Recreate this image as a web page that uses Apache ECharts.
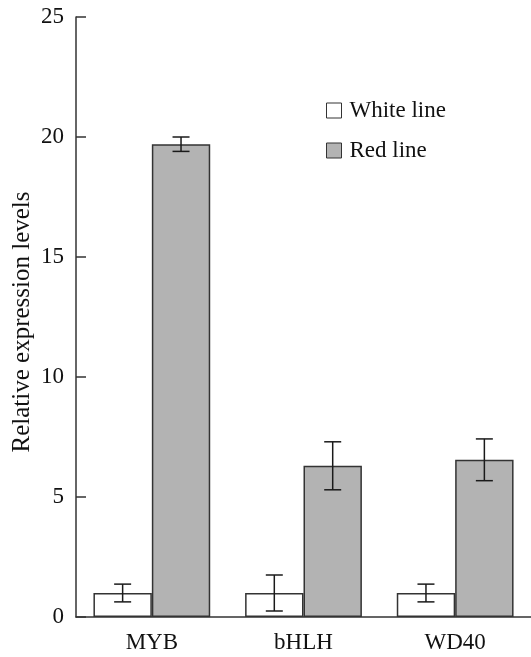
<!DOCTYPE html>
<html>
<head>
<meta charset="utf-8">
<script src="https://cdn.jsdelivr.net/npm/echarts@6/dist/echarts.min.js"></script>
<style>
html,body{margin:0;padding:0;background:#fff;}
#chart{width:531px;height:657px;}
</style>
</head>
<body>
<div id="chart"></div>
<script>
var categories = ['MYB', 'bHLH', 'WD40'];
var seriesNames = ['White line', 'Red line'];
var whiteValues = [1.0, 1.0, 1.0];
var whiteErrors = [0.37, 0.75, 0.37];
var redValues = [19.7, 6.3, 6.55];
var redErrors = [0.3, 1.0, 0.87];
var yTicks = [0, 5, 10, 15, 20, 25];

var FONT = '"Liberation Serif", "DejaVu Serif", serif';
var chart = echarts.init(document.getElementById('chart'));

var CAT_GAP = 0.23;
function errorData(values, errors) {
  return values.map(function (v, i) { return [i, v - errors[i], v + errors[i]]; });
}
function errorSeries(name, values, errors, side) {
  return {
    type: 'custom',
    name: name + ' error',
    silent: true,
    z: 5,
    data: errorData(values, errors),
    renderItem: function (params, api) {
      var catW = api.size([1, 0])[0];
      var barW = catW * (1 - CAT_GAP) / 2;
      var lo = api.coord([api.value(0), api.value(1)]);
      var hi = api.coord([api.value(0), api.value(2)]);
      var x = lo[0] + side * barW / 2;
      var cap = 8.5;
      var style = { stroke: '#1a1a1a', lineWidth: 1.5 };
      return {
        type: 'group',
        children: [
          { type: 'line', shape: { x1: x, y1: lo[1], x2: x, y2: hi[1] }, style: style },
          { type: 'line', shape: { x1: x - cap, y1: lo[1], x2: x + cap, y2: lo[1] }, style: style },
          { type: 'line', shape: { x1: x - cap, y1: hi[1], x2: x + cap, y2: hi[1] }, style: style }
        ]
      };
    }
  };
}

var option = {
  backgroundColor: '#fff',
  animation: false,
  textStyle: { fontFamily: FONT },
  grid: { left: 76, right: 0, top: 17, bottom: 40, containLabel: false },
  legend: {
    data: seriesNames,
    orient: 'vertical',
    left: 321,
    top: 94,
    itemWidth: 15,
    itemHeight: 15,
    itemGap: 17,
    icon: 'rect',
    itemStyle: { borderColor: '#333', borderWidth: 1 },
    textStyle: { fontFamily: FONT, fontSize: 23, color: '#111', padding: [0, 0, 0, 3] }
  },
  xAxis: {
    type: 'category',
    data: categories,
    axisLine: { lineStyle: { color: '#333', width: 1.5 } },
    axisTick: { inside: true, length: 10, alignWithLabel: false, lineStyle: { color: '#333', width: 1.5 } },
    axisLabel: { fontFamily: FONT, fontSize: 23, color: '#111', margin: 14 }
  },
  yAxis: {
    type: 'value',
    min: 0,
    max: 25,
    interval: 5,
    axisLine: { show: true, lineStyle: { color: '#333', width: 1.5 } },
    axisTick: { show: true, inside: true, length: 10, lineStyle: { color: '#333', width: 1.5 } },
    splitLine: { show: false },
    axisLabel: {
      fontFamily: FONT, fontSize: 23, color: '#111', margin: 12,
      formatter: function (v) { return yTicks.indexOf(v) >= 0 ? String(v) : ''; }
    }
  },
  graphic: [{
    type: 'text',
    x: 22,
    y: 322,
    rotation: Math.PI / 2,
    style: {
      text: 'Relative expression levels',
      font: '25px ' + FONT,
      fill: '#111',
      align: 'center',
      verticalAlign: 'middle'
    }
  }],
  series: [
    {
      name: seriesNames[0],
      type: 'bar',
      data: whiteValues,
      barGap: '0%',
      barCategoryGap: (CAT_GAP * 100) + '%',
      itemStyle: { color: '#ffffff', borderColor: '#333', borderWidth: 1.5 }
    },
    {
      name: seriesNames[1],
      type: 'bar',
      data: redValues,
      barGap: '0%',
      barCategoryGap: (CAT_GAP * 100) + '%',
      itemStyle: { color: '#b3b3b3', borderColor: '#333', borderWidth: 1.5 }
    },
    errorSeries(seriesNames[0], whiteValues, whiteErrors, -1),
    errorSeries(seriesNames[1], redValues, redErrors, 1)
  ]
};
chart.setOption(option);
</script>
</body>
</html>
